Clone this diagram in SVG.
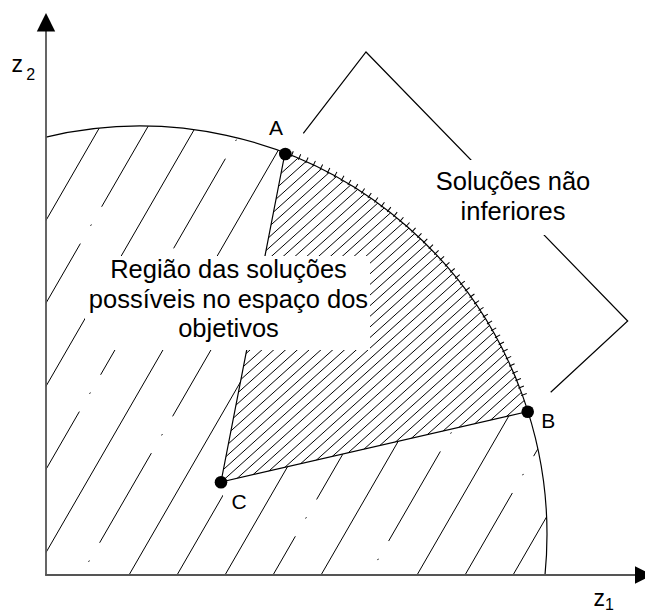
<svg xmlns="http://www.w3.org/2000/svg" width="645" height="613" viewBox="0 0 645 613">
<style>
.h{stroke:#000;stroke-width:1;fill:none}
.d{stroke-dasharray:103.5 20.5 1.5 20.5}
.e{stroke:#000;stroke-width:1.2;fill:none}
.ax{stroke:#555;stroke-width:1.8;fill:none}
.lb{font-family:"Liberation Sans",Arial,sans-serif;fill:#000}
.mk{fill:#fff}
.dot{fill:#000}
</style>
<defs>
<clipPath id="outer"><path d="M46,575 L46,137.1 A407,409 0 0 1 545,575 Z"/></clipPath>
<clipPath id="inner"><path d="M285,153 L221,482 L528,411.5 A407,409 0 0 0 285,153 Z"/></clipPath>
</defs>
<rect width="645" height="613" fill="#fff"/>
<g id="outer-hatch" clip-path="url(#outer)" class="h">
<line class="d" x1="154.38" y1="-50.87" x2="-156.25" y2="487.13"/>
<line x1="190.38" y1="-30.09" x2="-120.25" y2="508.91"/>
<line class="d" x1="226.38" y1="-9.31" x2="-84.25" y2="528.69"/>
<line x1="262.38" y1="11.48" x2="-48.25" y2="549.48"/>
<line class="d" x1="298.38" y1="32.26" x2="-12.25" y2="570.26"/>
<line x1="334.38" y1="53.05" x2="23.75" y2="591.05"/>
<line class="d" x1="370.38" y1="73.83" x2="59.75" y2="611.83"/>
<line x1="406.38" y1="94.61" x2="95.75" y2="632.61"/>
<line class="d" x1="442.38" y1="115.40" x2="131.75" y2="653.40"/>
<line x1="478.38" y1="136.18" x2="167.75" y2="674.18"/>
<line class="d" x1="514.38" y1="156.97" x2="203.75" y2="694.97"/>
<line x1="550.38" y1="177.75" x2="239.75" y2="715.75"/>
<line class="d" x1="586.38" y1="198.53" x2="275.75" y2="736.53"/>
<line x1="622.38" y1="219.32" x2="311.75" y2="757.32"/>
<line class="d" x1="658.38" y1="240.10" x2="347.75" y2="778.10"/>
<line x1="694.38" y1="260.89" x2="383.75" y2="798.89"/>
<line class="d" x1="730.38" y1="281.67" x2="419.75" y2="819.67"/>
</g>
<g id="feasible-nondominated-region">
<path d="M285,153 L221,482 L528,411.5 A407,409 0 0 0 285,153 Z" fill="#fff"/>
<path clip-path="url(#inner)" class="h" d="M215,222.2l320,-288.1m-320,298.72l320,-288.1m-320,298.72l320,-288.1m-320,298.72l320,-288.1m-320,298.72l320,-288.1m-320,298.72l320,-288.1m-320,298.72l320,-288.1m-320,298.72l320,-288.1m-320,298.72l320,-288.1m-320,298.72l320,-288.1m-320,298.72l320,-288.1m-320,298.72l320,-288.1m-320,298.72l320,-288.1m-320,298.72l320,-288.1m-320,298.72l320,-288.1m-320,298.72l320,-288.1m-320,298.72l320,-288.1m-320,298.72l320,-288.1m-320,298.72l320,-288.1m-320,298.72l320,-288.1m-320,298.72l320,-288.1m-320,298.72l320,-288.1m-320,298.72l320,-288.1m-320,298.72l320,-288.1m-320,298.72l320,-288.1m-320,298.72l320,-288.1m-320,298.72l320,-288.1m-320,298.72l320,-288.1m-320,298.72l320,-288.1m-320,298.72l320,-288.1m-320,298.72l320,-288.1m-320,298.72l320,-288.1m-320,298.72l320,-288.1m-320,298.72l320,-288.1m-320,298.72l320,-288.1m-320,298.72l320,-288.1m-320,298.72l320,-288.1m-320,298.72l320,-288.1m-320,298.72l320,-288.1m-320,298.72l320,-288.1m-320,298.72l320,-288.1m-320,298.72l320,-288.1m-320,298.72l320,-288.1m-320,298.72l320,-288.1m-320,298.72l320,-288.1"/>
</g>
<g id="pareto-ticks">
<path d="M291.7,153.8 A408.5,410.5 0 0 1 525.8,400" fill="none" stroke="#000" stroke-width="6" stroke-dasharray="1 7"/>
</g>
<g id="connectors">
<path class="e" d="M46,137.1 A407,409 0 0 1 545,575"/>
<path class="e" d="M285,153 L221,482 L528,411.5"/>
<path class="e" d="M303.3,133.3 L366,52 L627.7,321 L550.7,392.3"/>
</g>
<g id="label-masks">
<rect class="mk" x="85" y="256" width="285" height="94"/>
<rect class="mk" x="433" y="160" width="160" height="75"/>
<rect class="mk" x="223" y="484" width="30" height="30"/>
</g>
<g id="axes">
<line class="ax" x1="46" y1="575" x2="46" y2="30"/>
<line class="ax" x1="45.1" y1="575" x2="636" y2="575"/>
<polygon points="46,13 36.8,31.5 55.2,31.5" fill="#000"/>
<polygon points="653,575 635,566.3 635,583.7" fill="#000"/>
<text class="lb" x="11.6" y="71.7" font-size="23">z</text>
<text class="lb" x="26.2" y="80" font-size="16">2</text>
<text class="lb" x="593.6" y="605.5" font-size="23">z</text>
<text class="lb" x="605" y="609.5" font-size="16">1</text>
</g>
<g id="pointA"><circle class="dot" cx="285.3" cy="154" r="6.3"/><text class="lb" x="276" y="135" font-size="21" text-anchor="middle">A</text></g>
<g id="pointB"><circle class="dot" cx="527.7" cy="411.7" r="6.3"/><text class="lb" x="541.2" y="428.3" font-size="21">B</text></g>
<g id="pointC"><circle class="dot" cx="221" cy="482.3" r="6.3"/><text class="lb" x="239.2" y="508.8" font-size="21" text-anchor="middle">C</text></g>
<g id="label-region"><text class="lb" font-size="25.5" text-anchor="middle"><tspan x="228.5" y="278.3">Região das soluções</tspan><tspan x="228.5" y="307.8">possíveis no espaço dos</tspan><tspan x="228.5" y="337.3">objetivos</tspan></text></g>
<g id="label-nondominated"><text class="lb" font-size="25.5" text-anchor="middle"><tspan x="513" y="190">Soluções não</tspan><tspan x="513" y="219.5">inferiores</tspan></text></g>
</svg>
